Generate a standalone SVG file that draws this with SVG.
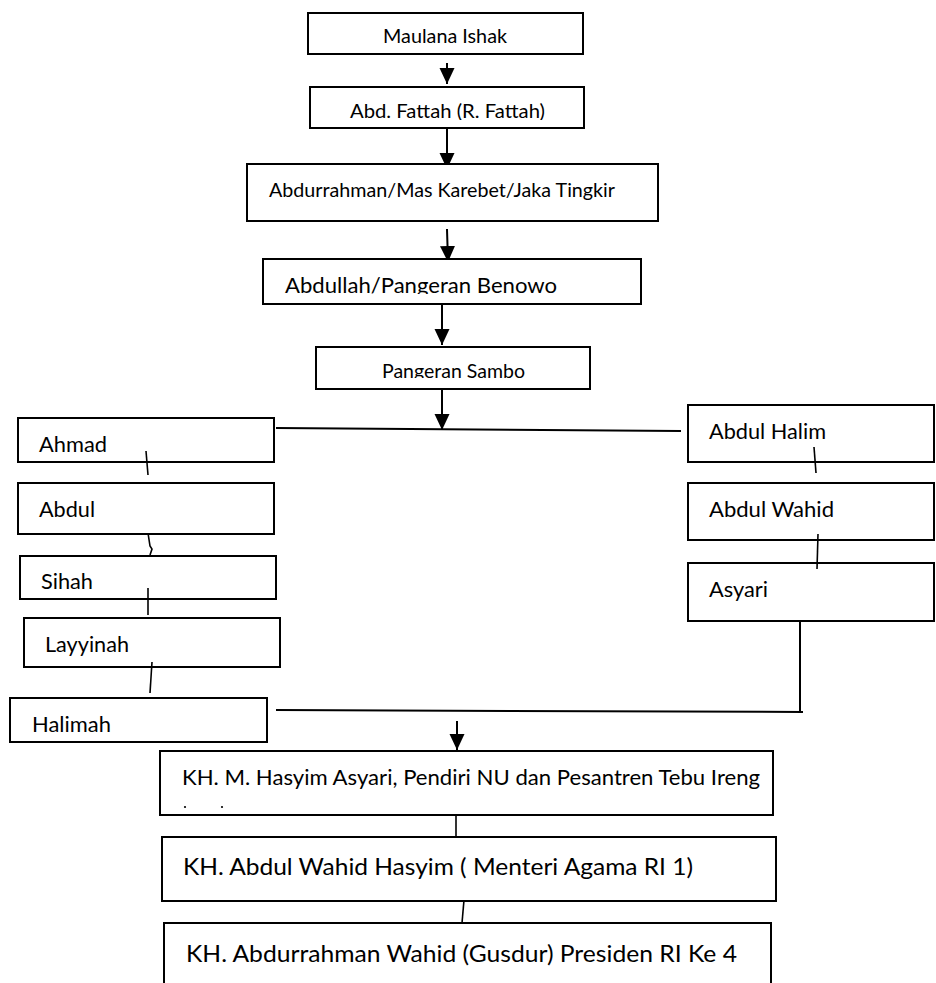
<svg xmlns="http://www.w3.org/2000/svg" width="936" height="983" viewBox="0 0 936 983">
<style>
.box{fill:#fff;stroke:#000;stroke-width:2}
.t{font-family:Lato,"Open Sans","Liberation Sans",sans-serif;fill:#000}
.s{font-size:19px}
.m{font-size:21.5px}
.l{font-size:23px}
.c{fill:none;stroke:#000;stroke-width:2}
.k{fill:none;stroke:#000;stroke-width:1.6}
</style>
<defs>
<marker id="ah" markerWidth="16" markerHeight="16" refX="16" refY="8" orient="auto" markerUnits="userSpaceOnUse"><path d="M0,0.5 L16,8 L0,15.5 z" fill="#000"/></marker>
<clipPath id="cp2"><rect x="310" y="87" width="274" height="33"/></clipPath>
<clipPath id="cp4"><rect x="263" y="259" width="378" height="35"/></clipPath>
<clipPath id="cp5"><rect x="316" y="347" width="274" height="31"/></clipPath>
</defs>
<g id="connectors">
<line class="c" x1="447" y1="63" x2="447" y2="84" marker-end="url(#ah)"/>
<line class="c" x1="447" y1="126" x2="447" y2="169" marker-end="url(#ah)"/>
<line class="c" x1="447" y1="229" x2="448" y2="262" marker-end="url(#ah)"/>
<line class="c" x1="442" y1="305" x2="442" y2="345" marker-end="url(#ah)"/>
<line class="c" x1="442" y1="389" x2="442" y2="430" marker-end="url(#ah)"/>
<line class="c" x1="276" y1="428" x2="681" y2="431"/>
<line class="c" x1="276" y1="710" x2="803" y2="712"/>
<line class="c" x1="800" y1="621" x2="800" y2="713"/>
<line class="c" x1="457" y1="721" x2="457" y2="750" marker-end="url(#ah)"/>
<line class="k" x1="456" y1="815" x2="456" y2="837"/>
<line class="k" x1="464" y1="900" x2="462" y2="923"/>
</g>
<g id="n-maulana"><rect class="box" x="308" y="13" width="275" height="41"/><text class="t s" x="383" y="43" textLength="124" lengthAdjust="spacingAndGlyphs">Maulana Ishak</text></g>
<g id="n-fattah"><rect class="box" x="310" y="87" width="274" height="41"/><text class="t s" x="350" y="118" textLength="195" lengthAdjust="spacingAndGlyphs" clip-path="url(#cp2)">Abd. Fattah (R. Fattah)</text></g>
<g id="n-abdurrahman"><rect class="box" x="247" y="164" width="411" height="57"/><text class="t s" x="269" y="197" textLength="346" lengthAdjust="spacingAndGlyphs">Abdurrahman/Mas Karebet/Jaka Tingkir</text></g>
<g id="n-abdullah"><rect class="box" x="263" y="259" width="378" height="45"/><text class="t m" x="285" y="293" textLength="272" lengthAdjust="spacingAndGlyphs" clip-path="url(#cp4)">Abdullah/Pangeran Benowo</text></g>
<g id="n-sambo"><rect class="box" x="316" y="347" width="274" height="42"/><text class="t s" x="382" y="378" textLength="143" lengthAdjust="spacingAndGlyphs" clip-path="url(#cp5)">Pangeran Sambo</text></g>
<g id="n-ahmad"><rect class="box" x="18" y="418" width="256" height="44"/><text class="t m" x="39" y="452" textLength="68" lengthAdjust="spacingAndGlyphs">Ahmad</text></g>
<g id="n-abdul"><rect class="box" x="18" y="483" width="256" height="51"/><text class="t m" x="39" y="517" textLength="56" lengthAdjust="spacingAndGlyphs">Abdul</text></g>
<g id="n-sihah"><rect class="box" x="20" y="556" width="256" height="43"/><text class="t m" x="41" y="589" textLength="52" lengthAdjust="spacingAndGlyphs">Sihah</text></g>
<g id="n-layyinah"><rect class="box" x="24" y="618" width="256" height="49"/><text class="t m" x="45" y="652" textLength="84" lengthAdjust="spacingAndGlyphs">Layyinah</text></g>
<g id="n-halimah"><rect class="box" x="10" y="698" width="257" height="44"/><text class="t m" x="32" y="732" textLength="79" lengthAdjust="spacingAndGlyphs">Halimah</text></g>
<g id="n-abdulhalim"><rect class="box" x="688" y="405" width="246" height="57"/><text class="t m" x="709" y="439" textLength="117" lengthAdjust="spacingAndGlyphs">Abdul Halim</text></g>
<g id="n-abdulwahid"><rect class="box" x="688" y="483" width="246" height="57"/><text class="t m" x="709" y="517" textLength="125" lengthAdjust="spacingAndGlyphs">Abdul Wahid</text></g>
<g id="n-asyari"><rect class="box" x="688" y="563" width="246" height="58"/><text class="t m" x="709" y="597" textLength="59" lengthAdjust="spacingAndGlyphs">Asyari</text></g>
<g id="ticks">
<line class="k" x1="146" y1="451" x2="148" y2="475"/>
<polyline class="k" points="148,533 150,546 152,549 150,555"/>
<line class="k" x1="148" y1="588" x2="148" y2="615"/>
<line class="k" x1="152" y1="662" x2="150" y2="693"/>
<line class="k" x1="814" y1="447" x2="816" y2="473"/>
<line class="k" x1="818" y1="534" x2="817" y2="569"/>
</g>
<g id="n-hasyim"><rect class="box" x="160" y="751" width="613" height="64"/><text class="t m" x="182" y="785" textLength="578" lengthAdjust="spacingAndGlyphs">KH. M. Hasyim Asyari, Pendiri NU dan Pesantren Tebu Ireng</text><circle cx="185" cy="807" r="1.1"/><circle cx="222" cy="807" r="1.1"/></g>
<g id="n-wahidhasyim"><rect class="box" x="162" y="837" width="614" height="64"/><text class="t l" x="183" y="875" textLength="510" lengthAdjust="spacingAndGlyphs">KH. Abdul Wahid Hasyim ( Menteri Agama RI 1)</text></g>
<g id="n-gusdur"><rect class="box" x="164" y="923" width="607" height="70"/><text class="t l" x="186" y="962" textLength="551" lengthAdjust="spacingAndGlyphs">KH. Abdurrahman Wahid (Gusdur) Presiden RI Ke 4</text></g>
</svg>
